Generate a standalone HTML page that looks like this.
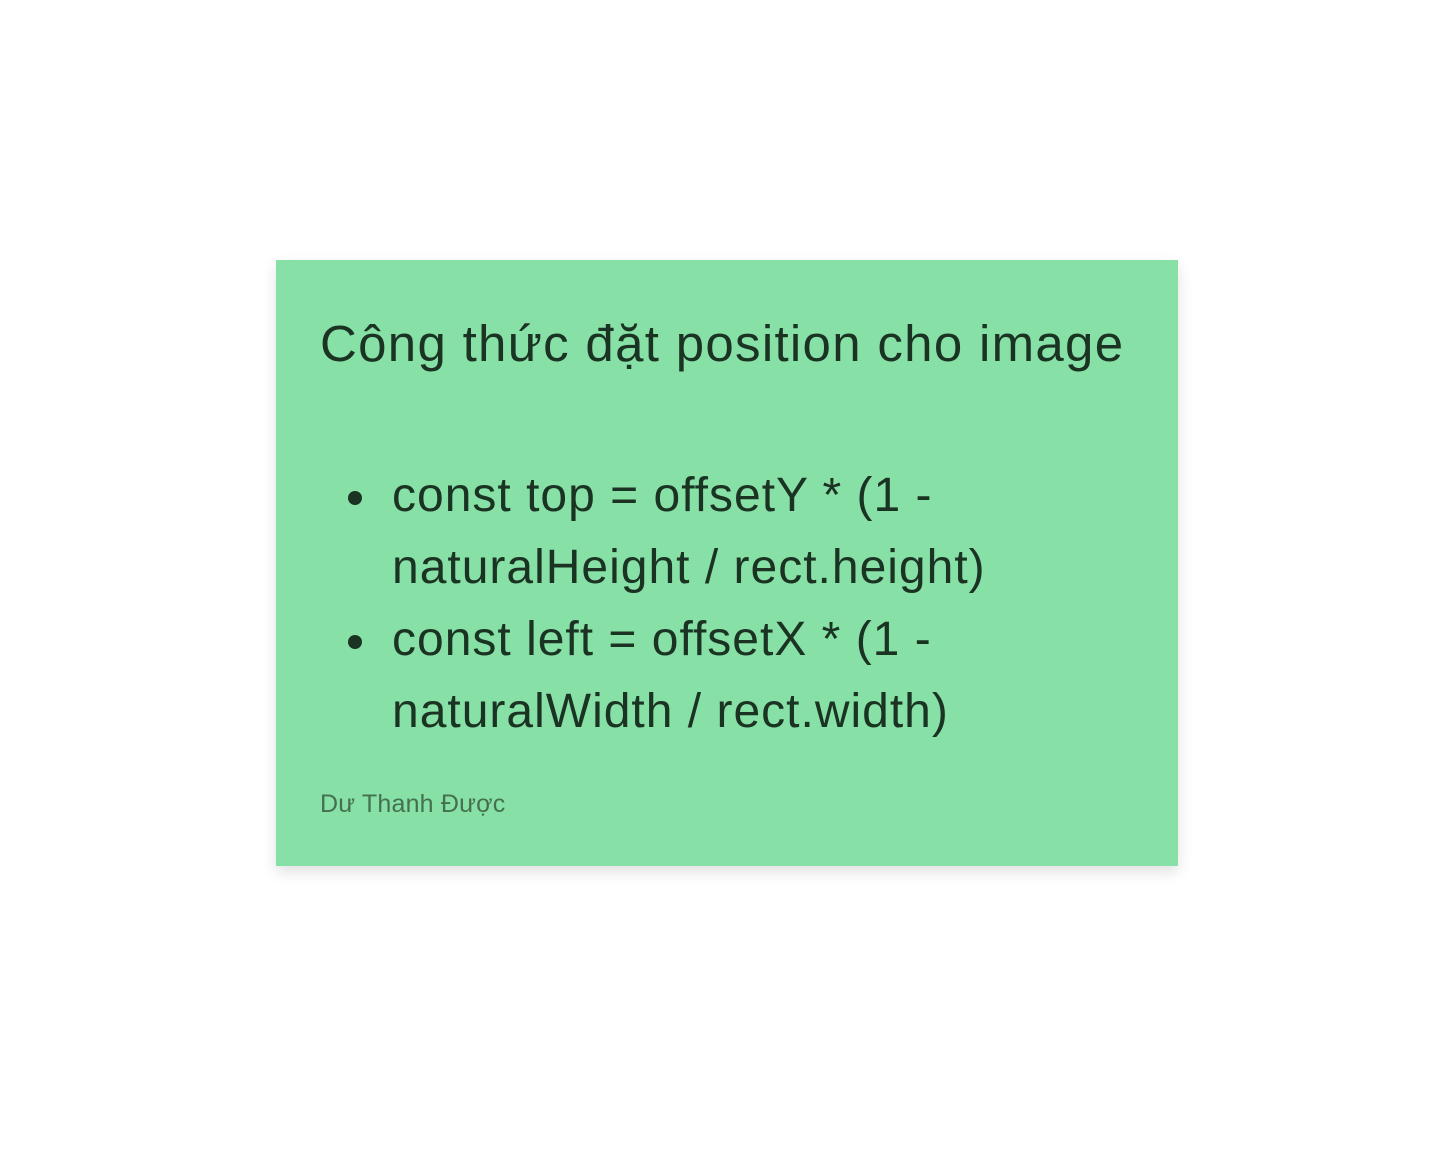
<!DOCTYPE html>
<html><head><meta charset="utf-8"><style>
html,body{margin:0;padding:0;background:#fff;width:1454px;height:1159px;overflow:hidden}
.card{position:absolute;left:276px;top:260px;width:902px;height:606px;background:#87e0a5;box-shadow:0 6px 14px rgba(0,0,0,0.12);font-family:"Liberation Sans","Noto Sans CJK SC",sans-serif;color:#1b3323}
.t{position:absolute;left:44px;top:54px;font-size:51px;white-space:nowrap;letter-spacing:1.3px}
ul{position:absolute;left:72px;top:200px;margin:0;padding:0 0 0 44px;font-size:48px;line-height:72px;width:640px;letter-spacing:1px;list-style:none}
li{position:relative}
li::before{content:"";position:absolute;left:-44px;top:31px;width:14px;height:14px;border-radius:50%;background:#1b3323}
.a{position:absolute;left:44px;top:530px;font-size:25px;color:#45704f;letter-spacing:0.2px}
</style></head><body>
<div class="card">
<div class="t">Công thức đặt position cho image</div>
<ul><li>const top = offsetY * (1 - naturalHeight / rect.height)</li><li>const left = offsetX * (1 - naturalWidth / rect.width)</li></ul>
<div class="a">Dư Thanh Được</div>
</div>
</body></html>
